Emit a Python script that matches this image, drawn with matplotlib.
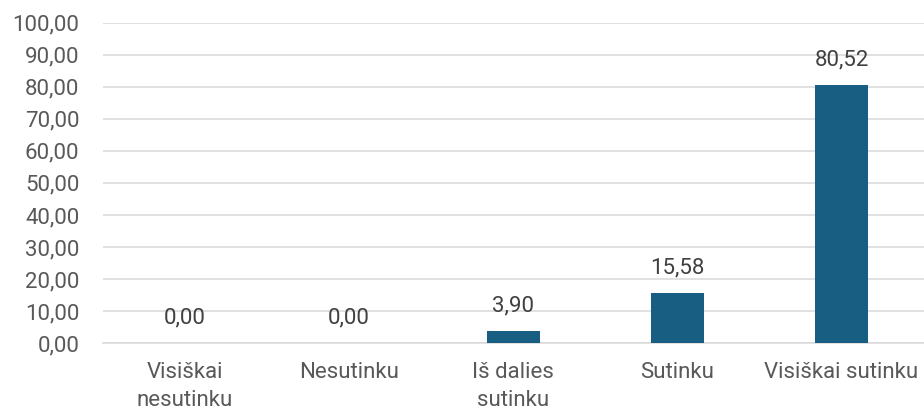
import matplotlib
matplotlib.use("Agg")
import matplotlib.pyplot as plt
import numpy as np

# ── Data ──────────────────────────────────────────────────────────────────────
categories = ["Visiškai\nnesutinku", "Nesutinku", "Iš dalies\nsutinku",
              "Sutinku", "Visiškai sutinku"]
values = [0.00, 0.00, 3.90, 15.58, 80.52]
y_ticks = [0, 10, 20, 30, 40, 50, 60, 70, 80, 90, 100]

BAR_COLOR = "#175E82"
TEXT_COLOR = "#595959"
GRID_COLOR = "#D9D9D9"
FS = 16


def fmt(v):
    return f"{v:.2f}".replace(".", ",")


plt.rcParams["font.family"] = ["Roboto", "DejaVu Sans"]

fig = plt.figure(figsize=(9.24, 4.12), dpi=100)
ax = fig.add_axes([0.1115, 0.1675, 0.888, 0.777])

x = np.arange(len(categories))
bars = ax.bar(x, values, width=0.32, color=BAR_COLOR, zorder=3)

for xi, v in zip(x, values):
    ax.annotate(fmt(v), (xi, v), xytext=(0, 18), textcoords="offset points",
                ha="center", va="center", fontsize=FS, color="#404040")

ax.set_xlim(-0.5, len(categories) - 0.5)
ax.set_ylim(0, 100)
ax.set_yticks(y_ticks)
ax.set_yticklabels([fmt(t) for t in y_ticks], fontsize=FS, color=TEXT_COLOR)
ax.set_xticks(x)
ax.set_xticklabels(categories, fontsize=FS, color=TEXT_COLOR, linespacing=1.4)
ax.tick_params(axis="y", length=0, pad=17)
ax.tick_params(axis="x", length=0, pad=14)

ax.grid(axis="y", color=GRID_COLOR, linewidth=1.1, zorder=0)
ax.set_axisbelow(True)
for s in ax.spines.values():
    s.set_visible(False)
ax.axhline(0, color=GRID_COLOR, linewidth=1.1, zorder=1, clip_on=False)

fig.savefig("out.png", dpi=100)
